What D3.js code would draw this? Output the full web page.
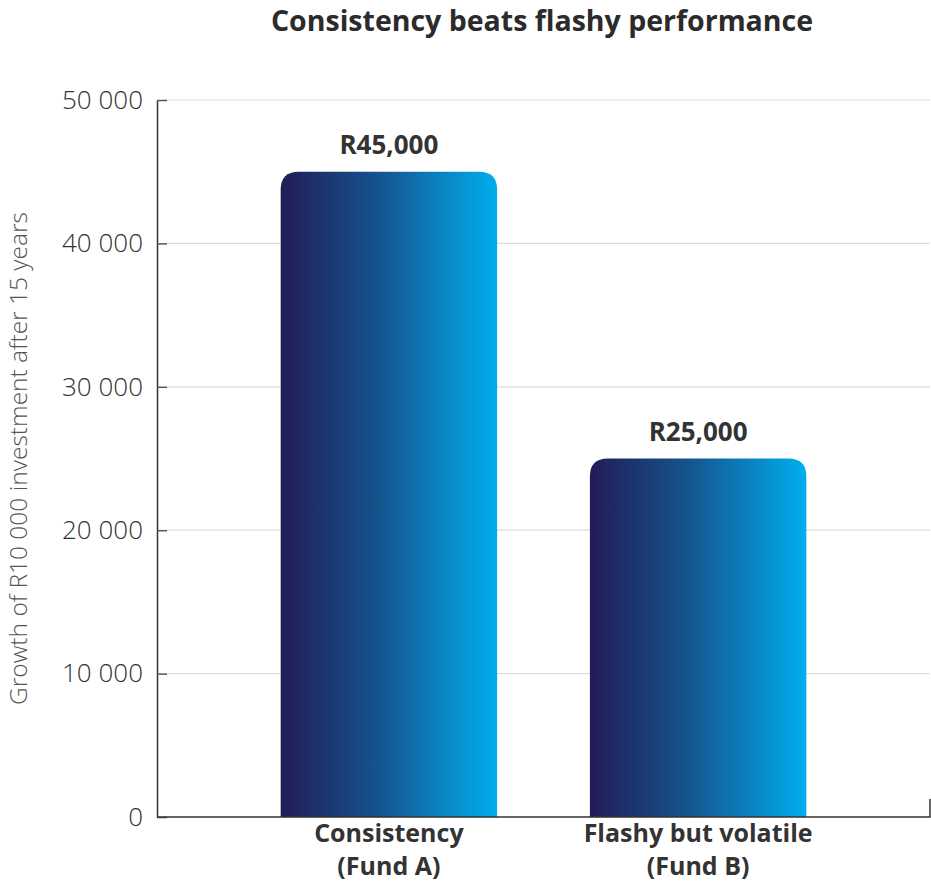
<!DOCTYPE html>
<html lang="en">
<head>
  <meta charset="utf-8">
  <title>Consistency beats flashy performance</title>
  <script src="https://d3js.org/d3.v7.min.js"></script>
  <style>
    body { margin: 0; background: #fff; }
    text { font-family: "Open Sans", "Noto Sans", sans-serif; }
  </style>
</head>
<body>
	<script type="text/javascript">

		// Data
		var categories = [["Consistency", "(Fund A)"], ["Flashy but volatile", "(Fund B)"]];
		var fundKeys = ["A", "B"];
		var values = [45000, 25000];
		var valueLabels = ["R45,000", "R25,000"];
		var yTicks = [0, 10000, 20000, 30000, 40000, 50000];

		// Margins so the plot sits where the original one does
		var margin = {top: 100, right: 1, bottom: 65, left: 157};
		var outer_width = 931;
		var outer_height = 882;
		var width = outer_width - margin.left - margin.right;
		var height = outer_height - margin.top - margin.bottom;

		var svg = d3.select("body")
					.append("svg")
					.attr("width", outer_width)
					.attr("height", outer_height);

		// Gradient for the bars, dark navy to bright cyan
		var grad = svg.append("defs")
					  .append("linearGradient")
					  .attr("id", "barGrad")
					  .attr("x1", "0%").attr("x2", "100%")
					  .attr("y1", "0%").attr("y2", "0%");
		grad.append("stop").attr("offset", "0%").attr("stop-color", "#221c56");
		grad.append("stop").attr("offset", "45%").attr("stop-color", "#15538d");
		grad.append("stop").attr("offset", "100%").attr("stop-color", "#00aeef");

		var g = svg.append("g")
				   .attr("transform", "translate(" + margin.left + "," + margin.top + ")");

		var xScale = d3.scaleBand()
					   .domain(fundKeys)
					   .range([0, width])
					   .paddingInner(0.3)
					   .paddingOuter(0.4);

		var yScale = d3.scaleLinear()
					   .domain([0, 50000])
					   .range([height, 0]);

		// Gridlines
		g.append("g")
		 .selectAll("line")
		 .data(yTicks.slice(1))
		 .enter()
		 .append("line")
		 .attr("x1", 10)
		 .attr("x2", width)
		 .attr("y1", function(d) { return yScale(d); })
		 .attr("y2", function(d) { return yScale(d); })
		 .attr("stroke", "#dcdcdc")
		 .attr("stroke-width", 1.2);

		// Y axis, ticks pointing into the plot
		var yAxis = d3.axisLeft(yScale)
					  .tickValues(yTicks)
					  .tickSize(-10)
					  .tickSizeOuter(0)
					  .tickPadding(14)
					  .tickFormat(function(d) { return d3.format(",")(d).replace(/,/g, " "); });

		var yAxisG = g.append("g").call(yAxis);
		yAxisG.select(".domain").attr("stroke", "#333").attr("stroke-width", 1.5);
		yAxisG.selectAll(".tick line").attr("stroke", "#555").attr("stroke-width", 1.5);
		yAxisG.selectAll(".tick text")
			  .attr("font-size", "26px")
			  .attr("font-weight", 300)
			  .attr("fill", "#333")
			  .style("font-family", "'Open Sans', sans-serif");

		// Bars with rounded tops
		function barPath(x, y, w, h, r) {
			return "M" + x + "," + (y + h) +
				   "V" + (y + r) +
				   "Q" + x + "," + y + " " + (x + r) + "," + y +
				   "H" + (x + w - r) +
				   "Q" + (x + w) + "," + y + " " + (x + w) + "," + (y + r) +
				   "V" + (y + h) + "Z";
		}

		g.selectAll(".bar")
		 .data(values)
		 .enter()
		 .append("path")
		 .attr("class", "bar")
		 .attr("d", function(d, i) {
			 var x = xScale(fundKeys[i]);
			 return barPath(x, yScale(d), xScale.bandwidth(), height - yScale(d), 18);
		 })
		 .attr("fill", "url(#barGrad)");

		// Value labels above bars
		g.selectAll(".val")
		 .data(values)
		 .enter()
		 .append("text")
		 .attr("class", "val")
		 .text(function(d, i) { return valueLabels[i]; })
		 .attr("x", function(d, i) { return xScale(fundKeys[i]) + xScale.bandwidth() / 2; })
		 .attr("y", function(d) { return yScale(d) - 18; })
		 .attr("text-anchor", "middle")
		 .attr("font-size", "26px")
		 .attr("font-weight", "bold")
		 .attr("fill", "#333");

		// X axis line with the end tick turned up
		var xAxisG = g.append("g")
					  .attr("transform", "translate(0," + height + ")");
		xAxisG.append("path")
			  .attr("d", "M0,0H" + width + "V-18")
			  .attr("fill", "none")
			  .attr("stroke", "#333")
			  .attr("stroke-width", 1.5);

		// Category labels, two lines each
		var cat = xAxisG.selectAll(".cat")
						.data(categories)
						.enter()
						.append("text")
						.attr("class", "cat")
						.attr("text-anchor", "middle")
						.attr("font-size", "25px")
						.attr("font-weight", "bold")
						.attr("fill", "#333");
		cat.selectAll("tspan")
		   .data(function(d, i) { return d.map(function(s) { return {s: s, i: i}; }); })
		   .enter()
		   .append("tspan")
		   .attr("x", function(d) { return xScale(fundKeys[d.i]) + xScale.bandwidth() / 2; })
		   .attr("y", function(d, j) { return 25 + j * 33; })
		   .text(function(d) { return d.s; });

		// Y axis title
		svg.append("text")
		   .attr("transform", "translate(27," + (margin.top + height * 0.5) + ") rotate(-90)")
		   .attr("text-anchor", "middle")
		   .attr("font-size", "24.5px")
		   .attr("font-weight", 300)
		   .attr("fill", "#555")
		   .text("Growth of R10 000 investment after 15 years");

		// Chart title
		svg.append("text")
		   .attr("x", 542)
		   .attr("y", 31)
		   .attr("text-anchor", "middle")
		   .attr("font-size", "28.5px")
		   .attr("font-weight", "bold")
		   .attr("fill", "#2b2b2b")
		   .text("Consistency beats flashy performance");
	</script>
</body>
</html>
